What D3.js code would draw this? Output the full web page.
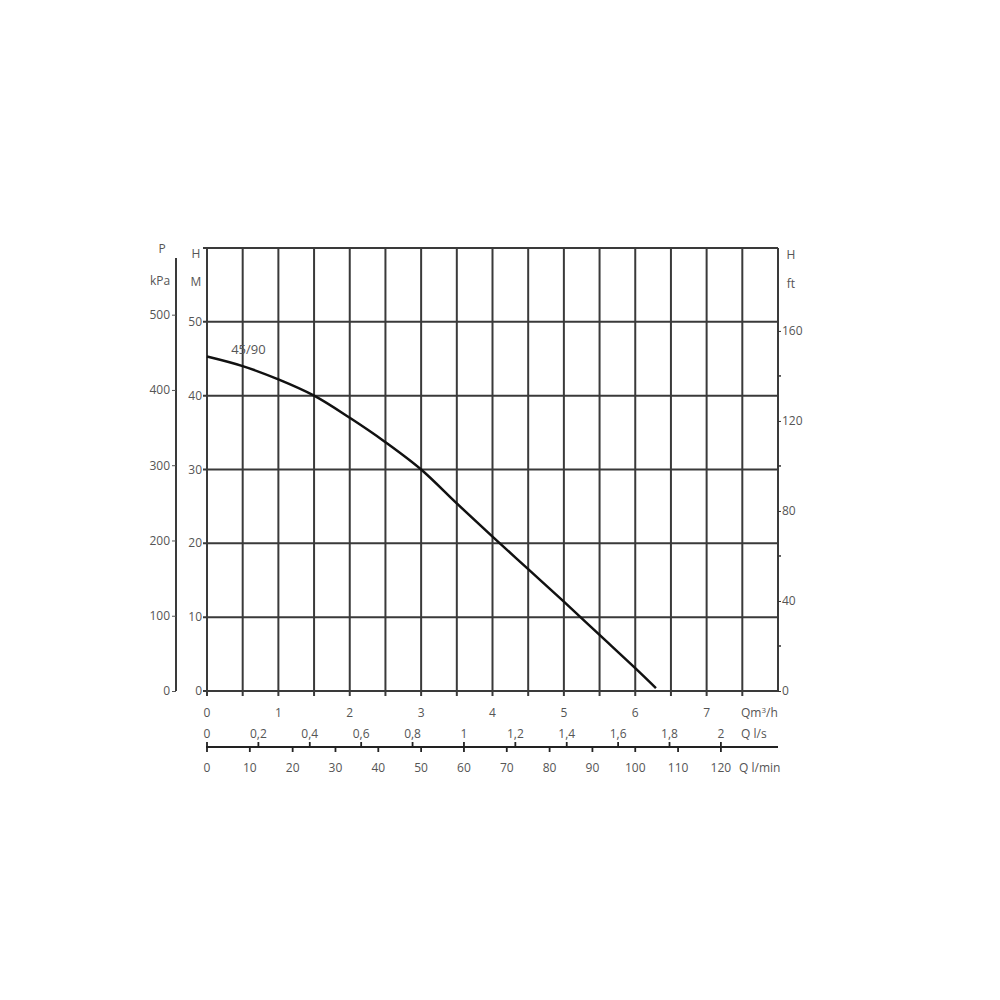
<!DOCTYPE html>
<html><head><meta charset="utf-8">
<script src="https://cdn.jsdelivr.net/npm/d3@7"></script>
<style>
body{margin:0;background:#fff;}
svg text{font-family:"Open Sans",sans-serif;fill:#555;font-size:12px;}
</style></head>
<body><svg id="c" width="1000" height="1000"></svg>
<script>
// data
const flowQ = [0, 0.5, 1, 1.5, 2, 2.5, 3, 3.5, 4, 4.5, 5, 5.5, 6, 6.29];
const headH = [45.3, 44.0, 42.2, 40.0, 37.0, 33.7, 30.0, 25.4, 20.9, 16.5, 12.1, 7.6, 3.1, 0.4];
const curveLabel = "45/90";
const hTicks = [0, 10, 20, 30, 40, 50];
const kpaTicks = [0, 100, 200, 300, 400, 500];
const ftTicks = [0, 40, 80, 120, 160];
const ftMinor = [20, 60, 100, 140];
const m3hTicks = [0, 1, 2, 3, 4, 5, 6, 7];
const m3hGrid = d3.range(0, 8.01, 0.5);
const lsTicks = [0, 0.2, 0.4, 0.6, 0.8, 1, 1.2, 1.4, 1.6, 1.8, 2];
const lminTicks = [0, 10, 20, 30, 40, 50, 60, 70, 80, 90, 100, 110, 120];

const svg = d3.select("#c");
const L = 207, R = 778, T = 248, B = 691;
const x = d3.scaleLinear([0, 8], [L, R]);
const y = d3.scaleLinear([0, 60], [B, T]);
const yK = d3.scaleLinear([0, 60 * 9.81], [B, T]);
const yF = d3.scaleLinear([0, 60 * 3.2808], [B, T]);
const xLs = d3.scaleLinear([0, 8 / 3.6], [L, R]);
const xLm = d3.scaleLinear([0, 8 / 0.06], [L, R]);
const gridCol = "#3a3a3a";
const fmt = d => String(d).replace(".", ",");

// vertical grid
svg.append("g").selectAll("line").data(m3hGrid).join("line")
  .attr("x1", d => x(d)).attr("x2", d => x(d))
  .attr("y1", T).attr("y2", d => d === 8 ? B : B + 5)
  .attr("stroke", gridCol).attr("stroke-width", 2);
// horizontal grid
svg.append("g").selectAll("line").data(hTicks.concat([60])).join("line")
  .attr("x1", L - 4).attr("x2", R).attr("y1", d => y(d)).attr("y2", d => y(d))
  .attr("stroke", gridCol).attr("stroke-width", 2);

// left H labels
svg.append("g").selectAll("text").data(hTicks).join("text")
  .attr("x", 202).attr("y", d => y(d) + 4).attr("text-anchor", "end").text(d => d);
svg.append("text").attr("x", 196).attr("y", 258).attr("text-anchor", "middle").text("H");
svg.append("text").attr("x", 196).attr("y", 286).attr("text-anchor", "middle").text("M");

// kPa axis
const gK = svg.append("g").attr("transform", "translate(176,0)")
  .call(d3.axisLeft(yK).tickValues(kpaTicks).tickSize(4).tickSizeOuter(0).tickPadding(2));
gK.select(".domain").attr("stroke", gridCol).attr("stroke-width", 2).attr("d", `M0,${T + 10}V${B}`);
gK.selectAll(".tick line").attr("stroke", "#555");
gK.selectAll(".tick text").style("font-size", "12px").attr("fill", "#555");
svg.append("text").attr("x", 162).attr("y", 253).attr("text-anchor", "middle").text("P");
svg.append("text").attr("x", 160).attr("y", 285).attr("text-anchor", "middle").text("kPa");

// ft axis
const gF = svg.append("g").attr("transform", `translate(${R},0)`)
  .call(d3.axisRight(yF).tickValues(ftTicks).tickSize(3).tickSizeOuter(0).tickPadding(1));
gF.select(".domain").remove();
gF.selectAll(".tick line").attr("stroke", "#333");
gF.selectAll(".tick text").style("font-size", "12px").attr("fill", "#555");
svg.append("g").selectAll("line").data(ftMinor).join("line")
  .attr("x1", R).attr("x2", R + 3).attr("y1", d => yF(d)).attr("y2", d => yF(d))
  .attr("stroke", "#333").attr("stroke-width", 1.5);
svg.append("text").attr("x", 791).attr("y", 259).attr("text-anchor", "middle").text("H");
svg.append("text").attr("x", 791).attr("y", 288).attr("text-anchor", "middle").text("ft");

// m3/h labels
svg.append("g").selectAll("text").data(m3hTicks).join("text")
  .attr("x", d => x(d)).attr("y", 717).attr("text-anchor", "middle").text(d => d);
const tq = svg.append("text").attr("x", 741).attr("y", 717);
tq.append("tspan").text("Qm");
tq.append("tspan").text("3").attr("dy", -4).style("font-size", "8px");
tq.append("tspan").text("/h").attr("dy", 4);

// l/s and l/min axis
const axY = 747;
svg.append("line").attr("x1", L - 1).attr("x2", R).attr("y1", axY).attr("y2", axY)
  .attr("stroke", "#222").attr("stroke-width", 1.8);
svg.append("g").selectAll("line").data(lsTicks).join("line")
  .attr("x1", d => xLs(d)).attr("x2", d => xLs(d)).attr("y1", axY - 5).attr("y2", axY)
  .attr("stroke", "#222").attr("stroke-width", 1.8);
svg.append("g").selectAll("text").data(lsTicks).join("text")
  .attr("x", d => xLs(d)).attr("y", 738).attr("text-anchor", "middle").text(fmt);
svg.append("text").attr("x", 741).attr("y", 738).text("Q l/s");
svg.append("g").selectAll("line").data(lminTicks).join("line")
  .attr("x1", d => xLm(d)).attr("x2", d => xLm(d)).attr("y1", axY).attr("y2", axY + 5)
  .attr("stroke", "#222").attr("stroke-width", 1.8);
svg.append("g").selectAll("text").data(lminTicks).join("text")
  .attr("x", d => xLm(d)).attr("y", 772).attr("text-anchor", "middle").text(d => d);
svg.append("text").attr("x", 739).attr("y", 772).text("Q l/min");

// curve
const pts = flowQ.map((q, i) => [q, headH[i]]);
svg.append("path").datum(pts)
  .attr("d", d3.line().x(d => x(d[0])).y(d => y(d[1])).curve(d3.curveCatmullRom.alpha(0.5)))
  .attr("fill", "none").attr("stroke", "#111").attr("stroke-width", 2.5);
svg.append("text").attr("x", x(0.58)).attr("y", y(45.7)).attr("text-anchor", "middle")
  .style("font-size", "13px").text(curveLabel);
</script></body></html>
